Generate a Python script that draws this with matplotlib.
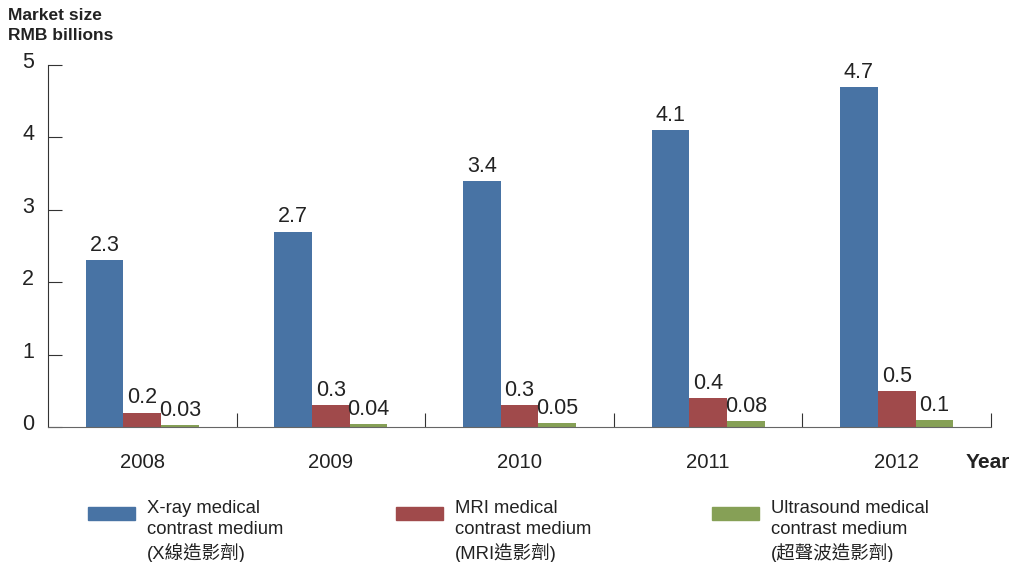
import numpy as np
import matplotlib.pyplot as plt
from matplotlib.patches import Rectangle
from matplotlib.transforms import ScaledTranslation

plt.rcParams['font.family'] = ['Liberation Sans', 'Noto Sans CJK TC', 'DejaVu Sans']

years = ["2008", "2009", "2010", "2011", "2012"]
xray = [2.3, 2.7, 3.4, 4.1, 4.7]
mri = [0.2, 0.3, 0.3, 0.4, 0.5]
ultra = [0.03, 0.04, 0.05, 0.08, 0.1]
xray_lbl = ["2.3", "2.7", "3.4", "4.1", "4.7"]
mri_lbl = ["0.2", "0.3", "0.3", "0.4", "0.5"]
ultra_lbl = ["0.03", "0.04", "0.05", "0.08", "0.1"]
names = ["X-ray medical\ncontrast medium\n(X線造影劑)",
         "MRI medical\ncontrast medium\n(MRI造影劑)",
         "Ultrasound medical\ncontrast medium\n(超聲波造影劑)"]
colors = ["#4873A4", "#A04A4B", "#86A056"]

fig = plt.figure(figsize=(10.13, 5.62), dpi=100)
ax = fig.add_axes([48/1013, 1-427/562, (991-48)/1013, (427-65)/562])

x = np.arange(len(years))
w = 0.2
for off, vals, lbls, c in [(-w, xray, xray_lbl, colors[0]),
                           (0, mri, mri_lbl, colors[1]),
                           (w, ultra, ultra_lbl, colors[2])]:
    bars = ax.bar(x + off, vals, w, color=c, zorder=2)
    ax.bar_label(bars, labels=lbls, padding=3, fontsize=15.5, color="#222222")

ax.set_xlim(-0.5, 4.5)
ax.set_ylim(0, 5)
for s in ["top", "right"]:
    ax.spines[s].set_visible(False)
ax.spines["left"].set_color("#333333")
ax.spines["bottom"].set_color("#666666")
ax.set_yticks(range(6))
ax.tick_params(axis="y", direction="in", length=10, pad=10, labelsize=15.5,
               color="#333333", labelcolor="#222222")
for lab in ax.get_yticklabels():
    lab.set_transform(lab.get_transform() + ScaledTranslation(0, 5/100, fig.dpi_scale_trans))
ax.set_xticks(x + 0.5)
ax.set_xticklabels([])
ax.tick_params(axis="x", which="major", direction="in", length=10, color="#333333")
ax.set_xticks(x, minor=True)
ax.set_xticklabels(years, minor=True)
ax.tick_params(axis="x", which="minor", length=0, pad=19, labelsize=14.6,
               labelcolor="#222222")

fig.text(8/1013, 1-8/562, "Market size\nRMB billions", fontsize=12.5,
         fontweight="bold", va="top", ha="left", linespacing=1.45, color="#222222")
fig.text(966/1013, 1-463/562, "Year", fontsize=15, fontweight="bold",
         va="center", ha="left", color="#222222")

# legend
px = [88, 396, 712]
for p, name, c in zip(px, names, colors):
    fig.add_artist(Rectangle((p/1013, 1-520/562), 47/1013, 13/562,
                             color=c, transform=fig.transFigure))
    fig.text((p+59)/1013, 1-500/562, name, fontsize=13.3, va="top", ha="left",
             linespacing=1.3, color="#222222")

fig.savefig("out.png", dpi=100)
